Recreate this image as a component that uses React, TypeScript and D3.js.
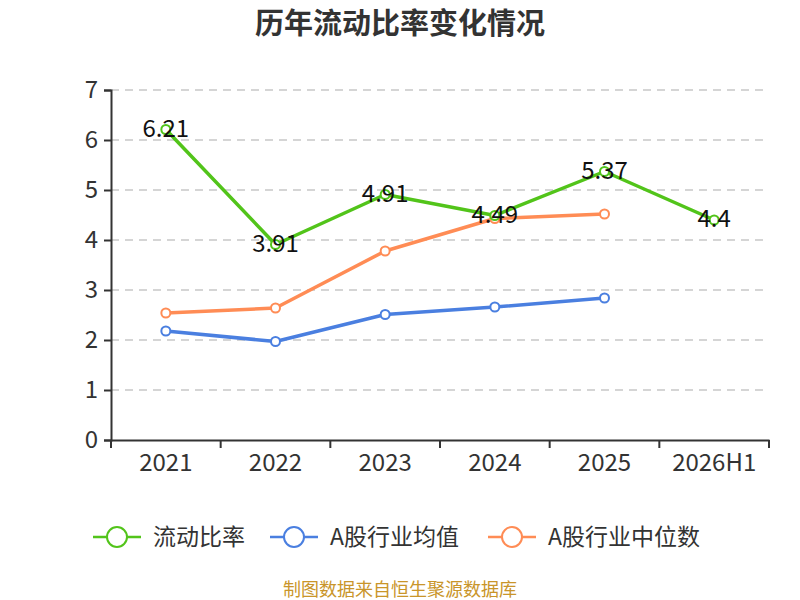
import { useEffect, useRef } from "react"
import * as d3 from "d3"

const categories = ["2021", "2022", "2023", "2024", "2025", "2026H1"]
const currentRatio = [6.21, 3.91, 4.91, 4.49, 5.37, 4.4]
const industryMean = [2.18, 1.97, 2.51, 2.66, 2.84]
const industryMedian = [2.54, 2.64, 3.78, 4.43, 4.52]
const yTicks = [0, 1, 2, 3, 4, 5, 6, 7]

const seriesNames = ["流动比率", "A股行业均值", "A股行业中位数"]
const colors = ["#52c41a", "#4a7fe0", "#ff8c55"]

const font = "'Noto Sans CJK SC', 'Noto Sans', sans-serif"

export default function App() {
  const svgRef = useRef<SVGSVGElement>(null)

  useEffect(() => {
    if (!svgRef.current) return
    const svg = d3.select(svgRef.current)
    svg.selectAll("*").remove()

    const x = d3.scaleBand().domain(categories).range([111, 769])
    const y = d3.scaleLinear().domain([0, 7]).range([440, 90])
    const cx = (i: number) => x(categories[i])! + x.bandwidth() / 2

    // title
    svg
      .append("text")
      .attr("x", 400)
      .attr("y", 34)
      .attr("text-anchor", "middle")
      .attr("font-size", 29)
      .attr("font-weight", "bold")
      .attr("fill", "#333")
      .text("历年流动比率变化情况")

    // grid
    svg
      .append("g")
      .selectAll("line")
      .data(yTicks.slice(1))
      .enter()
      .append("line")
      .attr("x1", 111)
      .attr("x2", 769)
      .attr("y1", (d) => y(d))
      .attr("y2", (d) => y(d))
      .attr("stroke", "#c8c8c8")
      .attr("stroke-width", 1.5)
      .attr("stroke-dasharray", "8,6")

    // y axis
    const yAxis = svg
      .append("g")
      .attr("transform", "translate(111,0)")
      .call(d3.axisLeft(y).tickValues(yTicks).tickSize(7).tickPadding(6).tickFormat(d3.format("d")))
    yAxis.select(".domain").attr("stroke", "#333").attr("stroke-width", 2)
    yAxis.selectAll(".tick line").attr("stroke", "#333").attr("stroke-width", 2)
    yAxis.selectAll("text").attr("fill", "#333").attr("font-size", 24).attr("font-family", font)

    // x axis
    const xAxis = svg
      .append("g")
      .attr("transform", "translate(0,440)")
      .call(d3.axisBottom(x).tickSize(0).tickPadding(14))
    xAxis.select(".domain").attr("stroke", "#333").attr("stroke-width", 2)
    xAxis.selectAll("text").attr("fill", "#333").attr("font-size", 24).attr("font-family", font)
    xAxis
      .selectAll(".boundary")
      .data(d3.range(categories.length + 1))
      .enter()
      .append("line")
      .attr("x1", (i) => 111 + i * x.bandwidth())
      .attr("x2", (i) => 111 + i * x.bandwidth())
      .attr("y1", 0)
      .attr("y2", 8)
      .attr("stroke", "#333")
      .attr("stroke-width", 2)

    const line = d3
      .line<number>()
      .x((_, i) => cx(i))
      .y((d) => y(d))

    const allSeries = [currentRatio, industryMean, industryMedian]
    // draw medians/means first, main series on top
    ;[2, 1, 0].forEach((s) => {
      const data = allSeries[s]
      const g = svg.append("g")
      g.append("path")
        .datum(data)
        .attr("fill", "none")
        .attr("stroke", colors[s])
        .attr("stroke-width", 3.5)
        .attr("stroke-linejoin", "round")
        .attr("d", line)
      g.selectAll("circle")
        .data(data)
        .enter()
        .append("circle")
        .attr("cx", (_, i) => cx(i))
        .attr("cy", (d) => y(d))
        .attr("r", 4.5)
        .attr("fill", "#fff")
        .attr("stroke", colors[s])
        .attr("stroke-width", 2)
    })

    // value labels
    svg
      .append("g")
      .selectAll("text")
      .data(currentRatio)
      .enter()
      .append("text")
      .attr("x", (_, i) => cx(i))
      .attr("y", (d) => y(d) + 7)
      .attr("text-anchor", "middle")
      .attr("font-size", 24)
      .attr("font-family", font)
      .attr("fill", "#111")
      .text((d) => String(d))

    // legend
    const legendX = [93, 270, 488]
    const legend = svg
      .append("g")
      .selectAll("g")
      .data(seriesNames)
      .enter()
      .append("g")
      .attr("transform", (_, i) => `translate(${legendX[i]},537)`)
    legend
      .append("line")
      .attr("x1", 0)
      .attr("x2", 48)
      .attr("stroke", (_, i) => colors[i])
      .attr("stroke-width", 2.5)
    legend
      .append("circle")
      .attr("cx", 24)
      .attr("r", 10)
      .attr("fill", "#fff")
      .attr("stroke", (_, i) => colors[i])
      .attr("stroke-width", 2)
    legend
      .append("text")
      .attr("x", 60)
      .attr("y", 8)
      .attr("font-size", 23)
      .attr("font-family", font)
      .attr("fill", "#333")
      .text((d) => d)

    // source
    svg
      .append("text")
      .attr("x", 400)
      .attr("y", 596)
      .attr("text-anchor", "middle")
      .attr("font-size", 18)
      .attr("font-family", font)
      .attr("fill", "#c9952a")
      .text("制图数据来自恒生聚源数据库")
  }, [])

  return (
    <svg
      ref={svgRef}
      width={800}
      height={600}
      style={{ position: "absolute", left: 0, top: 0, fontFamily: font, background: "#fff" }}
    />
  )
}
